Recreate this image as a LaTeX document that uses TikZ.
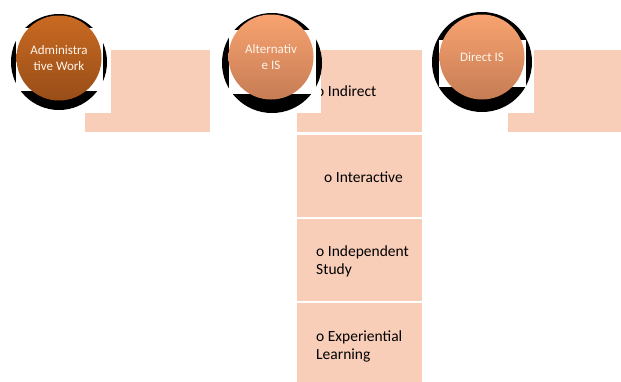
\documentclass[tikz,border=0pt]{standalone}
\usepackage{fontspec}
\setmainfont{Carlito}
\usetikzlibrary{positioning}

\definecolor{peach}{RGB}{249,206,185}
\definecolor{rustTop}{RGB}{201,106,34}
\definecolor{rustBot}{RGB}{152,77,24}
\definecolor{salmonTop}{RGB}{248,163,112}
\definecolor{salmonBot}{RGB}{198,124,84}

\begin{document}
\begin{tikzpicture}[x=1pt, y=-1pt,
    itembox/.style={fill=peach, minimum width=125pt, minimum height=82pt,
        inner sep=0pt, anchor=north west},
    itemtext/.style={font=\fontsize{15.5}{18}\selectfont, align=left, inner sep=0pt},
    bubble/.style={circle, minimum size=85pt, inner sep=0pt, align=center,
        text=white!92!orange, font=\fontsize{13}{15.5}\selectfont}]
    \useasboundingbox (0,0) rectangle (621,381);

    % text boxes
    \node[itembox] (adminbox) at (85,50) {};
    \node[itembox] (indirect) at (297,50) {};
    \node[itembox, below=2pt of indirect] (interactive) {};
    \node[itembox, below=2pt of interactive] (independent) {};
    \node[itembox, below=2pt of independent] (experiential) {};
    \node[itembox] (directbox) at (508,50) {};

    \node[itemtext, right=19pt of indirect.west] (indirecttxt) {o Indirect};
    \node[itemtext, right=27pt of interactive.west, yshift=-2pt] (interactivetxt) {o Interactive};
    \node[itemtext, right=19pt of independent.west, yshift=-1.5pt] (independenttxt) {o Independent\\Study};
    \node[itemtext, right=19pt of experiential.west, yshift=-2pt] (experientialtxt) {o Experiential\\Learning};

    % circle backdrops
    \foreach \cx/\by/\br/\rt/\rb/\rr in {59/62/48/28/91/111, 272/63/50/30/94/321, 482/62/50/40/87/534} {
        \fill[white] (\cx-51, 5) rectangle (\rr, 113);
        \fill[black] (\cx, \by) circle (\br pt);
        \fill[white] (\cx-43, \rt) rectangle (\cx+44, \rb);
    }

    \node[bubble, top color=rustTop, bottom color=rustBot] (admin) at (59,58) {Administra\\tive Work};
    \node[bubble, top color=salmonTop, bottom color=salmonBot] (altis) at (271,57) {Alternativ\\e IS};
    \node[bubble, top color=salmonTop, bottom color=salmonBot] (directis) at (482,57) {Direct IS};
\end{tikzpicture}
\end{document}
